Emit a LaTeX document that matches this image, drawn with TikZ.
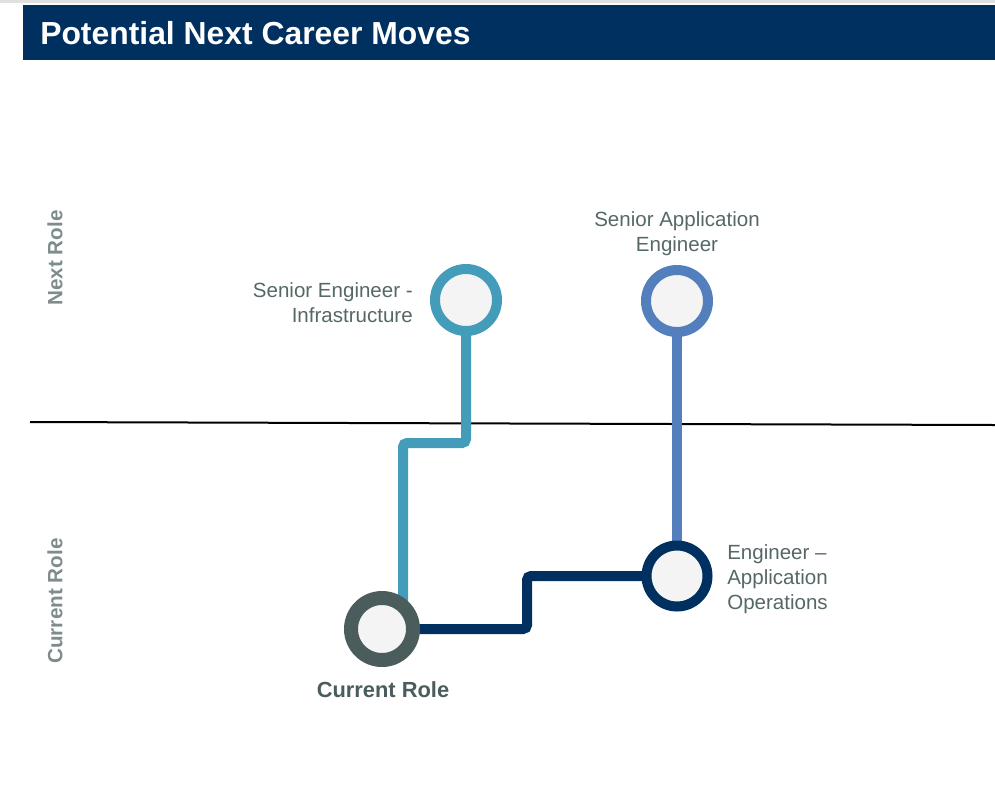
\documentclass[tikz,border=0pt]{standalone}
\usepackage{fontspec}
\setmainfont{Liberation Sans}
\usetikzlibrary{backgrounds}
\definecolor{navy}{HTML}{00305F}
\definecolor{tealc}{HTML}{439CB9}
\definecolor{bluec}{HTML}{537FBD}
\definecolor{darkg}{HTML}{4B5C5C}
\definecolor{fillg}{HTML}{F4F4F4}
\definecolor{labelg}{HTML}{566767}
\definecolor{axisg}{HTML}{7F8C8C}
\tikzset{
  ring/.style={circle, draw=#1, fill=fillg, inner sep=0pt, outer sep=0pt, minimum size=46.5pt, line width=7.5pt},
  conn/.style={draw=#1, line width=7.5pt, rounded corners=3pt},
  lbl/.style={text=labelg, inner sep=0pt, font=\fontsize{15.4}{18.75}\selectfont},
  axislbl/.style={text=axisg, inner sep=0pt, rotate=90, font=\bfseries\fontsize{15.5}{18}\selectfont}
}
\begin{document}
\begin{tikzpicture}[x=0.75pt,y=-0.75pt]
\useasboundingbox (0,0) rectangle (995,793);
% top thin line
\fill[black!12] (0,0) rectangle (995,3);
% title bar
\fill[navy] (23,5) rectangle (995,60);
\node[anchor=base west, text=white, inner sep=0pt, font=\bfseries\fontsize{23.9}{28}\selectfont] (title) at (40,44) {Potential Next Career Moves};
% coordinates
\coordinate (pinfra) at (466,300);
\coordinate (pappeng) at (677,301);
\coordinate (pcur) at (382,629);
\coordinate (pops) at (677,576);
\coordinate (t1) at (403,443);
\coordinate (n1) at (527,576);
% divider line
\coordinate (dl) at (30,422);
\coordinate (dr) at (995,425);
\begin{scope}[on background layer]
\draw[black, line width=1.5pt] (dl) -- (dr);
\draw[conn=tealc] (pinfra) |- (t1) -- (t1 |- pcur);
\draw[conn=navy] (pcur) -| (n1) -- (pops);
\draw[conn=bluec] (pappeng) -- (pops);
\end{scope}
% circles
\node[ring=tealc] (infra) at (pinfra) {};
\node[ring=bluec] (appeng) at (pappeng) {};
\node[ring=navy, minimum size=45.75pt] (ops) at (pops) {};
\node[ring=darkg, line width=10.5pt] (cur) at (pcur) {};
% labels
\node[lbl, anchor=east, align=right] (linfra) at (413,303) {Senior Engineer -\\Infrastructure};
\node[lbl, align=center] (lappeng) at (677,234) {Senior Application\\Engineer};
\node[lbl, anchor=west, align=left] (lops) at (727,579.5) {Engineer –\\Application\\Operations};
\node[text=darkg, inner sep=0pt, font=\bfseries\fontsize{16.4}{19}\selectfont] (lcur) at (383,690) {Current Role};
% axis labels
\node[axislbl] (anext) at (55,258) {Next Role};
\node[axislbl] (acur) at (55,601) {Current Role};
\end{tikzpicture}
\end{document}
